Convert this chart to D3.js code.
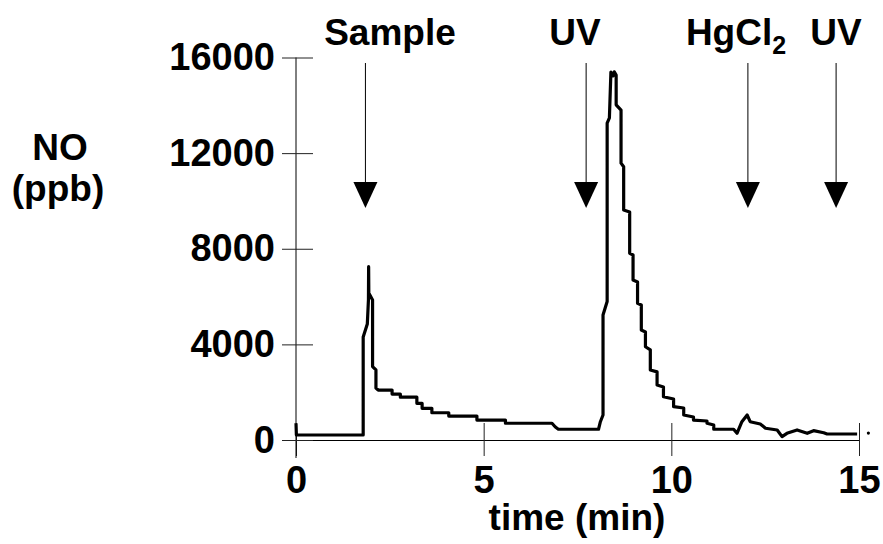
<!DOCTYPE html>
<html>
<head>
<meta charset="utf-8">
<script src="https://cdn.jsdelivr.net/npm/d3@7"></script>
<style>
	body { margin: 0; background: #fff; }
	svg text { font-family: "Liberation Sans", Arial, sans-serif; font-weight: bold; fill: #000; }
</style>
</head>
<body>
<svg id="chart" width="883" height="544"></svg>
<script>
// trace: time (min), NO (ppb)
var times = [0, 0.01, 1.79, 1.79, 1.90, 1.93, 1.935, 1.94, 2.04, 2.04, 2.13, 2.13, 2.19, 2.56, 2.56, 2.78, 2.78,
	3.22, 3.22, 3.36, 3.36, 3.62, 3.62, 4.07, 4.07, 4.82, 4.82, 5.58, 5.58, 6.82, 6.91, 6.99, 8.06, 8.11, 8.18, 8.18,
	8.29, 8.29, 8.35, 8.39, 8.45, 8.48, 8.53, 8.53, 8.66, 8.66, 8.73, 8.73, 8.89, 8.89, 8.98, 8.98, 9.10, 9.10,
	9.20, 9.20, 9.31, 9.31, 9.44, 9.44, 9.62, 9.62, 9.79, 9.79, 10.06, 10.06, 10.33, 10.33, 10.59, 10.59, 10.95, 10.95,
	11.13, 11.13, 11.66, 11.75, 11.88, 12.02, 12.10, 12.37, 12.51, 12.82, 12.95, 13.08, 13.35, 13.62, 13.79, 14.06,
	14.15, 14.95];
var noPpb = [700, 210, 210, 4310, 4850, 5860, 7250, 6150, 5860, 3070, 2930, 2175, 2090, 2090, 1920, 1920, 1790,
	1790, 1535, 1535, 1325, 1325, 1140, 1140, 1000, 1000, 835, 835, 700, 700, 545, 450, 450, 765, 1045, 5230,
	5790, 13250, 13470, 15390, 15230, 15400, 15270, 14020, 13800, 11580, 11430, 9620, 9540, 7810, 7740, 6690, 6610, 5720,
	5650, 4600, 4520, 3900, 3770, 2930, 2850, 2300, 2220, 1810, 1715, 1395, 1340, 1045, 960, 835, 795, 700,
	630, 450, 450, 280, 765, 1045, 765, 670, 490, 420, 140, 280, 420, 280, 390, 305,
	250, 250];
var lastDot = [15.25, 290];

var xTicks = [0, 5, 10, 15];
var yTicks = [0, 4000, 8000, 12000, 16000];

var events = ['Sample', 'UV', 'HgCl', 'UV'];
var eventTimes = [1.85, 7.73, 12.04, 14.39];

var svg = d3.select('#chart');

var x = d3.scaleLinear().domain([0, 15]).range([296, 859]);
var y = d3.scaleLinear().domain([0, 16000]).range([440, 57.5]);

// x axis, ticks crossing the line
var xAxis = d3.axisBottom(x)
	.tickValues(xTicks)
	.tickFormat(d3.format('d'))
	.tickSize(16)
	.tickSizeOuter(0)
	.tickPadding(10);

var gx = svg.append('g')
	.attr('transform', 'translate(0,440)')
	.call(xAxis);
gx.selectAll('.tick line').attr('y1', -17).attr('stroke', '#222');
gx.select('.domain').attr('stroke', '#000');
gx.selectAll('.tick text').style('font-size', '38px');

var yAxis = d3.axisLeft(y)
	.tickValues(yTicks)
	.tickFormat(d3.format('d'))
	.tickSize(14)
	.tickSizeOuter(0)
	.tickPadding(7);

var gy = svg.append('g')
	.attr('transform', 'translate(296,0)')
	.call(yAxis);
gy.selectAll('.tick line').attr('x1', 17).attr('stroke', '#222');
gy.select('.domain').attr('d', 'M0,' + y(16000) + 'V458').attr('stroke', '#000');
gy.selectAll('.tick text').style('font-size', '38px');

// axis titles
svg.append('text')
	.text('time (min)')
	.attr('x', 577)
	.attr('y', 530)
	.style('text-anchor', 'middle')
	.style('font-size', '37px');

svg.append('text')
	.text('NO')
	.attr('x', 60)
	.attr('y', 160)
	.style('text-anchor', 'middle')
	.style('font-size', '37px');
svg.append('text')
	.text('(ppb)')
	.attr('x', 58)
	.attr('y', 201)
	.style('text-anchor', 'middle')
	.style('font-size', '37px');

// trace
var trace = d3.line()
	.x(d => x(d[0]))
	.y(d => y(d[1]));

svg.append('path')
	.datum(times.map((t, i) => [t, noPpb[i]]))
	.attr('d', trace)
	.attr('fill', 'none')
	.attr('stroke', '#000')
	.attr('stroke-width', 3.2)
	.attr('stroke-linejoin', 'round');

svg.append('circle')
	.attr('cx', x(lastDot[0]))
	.attr('cy', y(lastDot[1]))
	.attr('r', 1.6)
	.attr('fill', '#000');

// event arrows and labels
var labelX = [390, 575, 736, 836];

var arrows = svg.selectAll('.arrow')
	.data(eventTimes)
	.enter()
	.append('g')
	.attr('class', 'arrow')
	.attr('transform', d => `translate(${x(d)},0)`);

arrows.append('line')
	.attr('y1', 63)
	.attr('y2', 184)
	.attr('stroke', '#000')
	.attr('stroke-width', 1);
arrows.append('path')
	.attr('d', 'M-12,182L12,182L0,208Z')
	.attr('fill', '#000');

var labels = svg.selectAll('.event-label')
	.data(events)
	.enter()
	.append('text')
	.attr('class', 'event-label')
	.attr('x', (d, i) => labelX[i])
	.attr('y', 45)
	.style('text-anchor', 'middle')
	.style('font-size', '37px')
	.text(d => d);

labels.filter(d => d === 'HgCl')
	.append('tspan')
	.attr('dy', 9)
	.style('font-size', '25px')
	.text('2');
</script>
</body>
</html>
